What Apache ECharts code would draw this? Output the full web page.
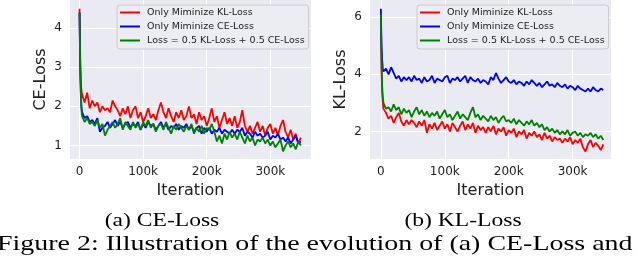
<!DOCTYPE html>
<html><head><meta charset="utf-8">
<script src="https://cdn.jsdelivr.net/npm/echarts@6/dist/echarts.min.js"></script>
<style>html,body{margin:0;padding:0;background:#fff}#c{width:640px;height:261px}</style>
</head><body><div id="c"></div>
<script>
// Iteration (in thousands)
const iterK = [0,1,2,3,
  4,8,12,16,20,24,28,32,36,40,
  44,48,52,56,60,64,68,72,76,80,
  84,88,92,96,100,104,108,112,116,120,
  124,128,132,136,140,144,148,152,156,160,
  164,168,172,176,180,184,188,192,196,200,
  204,208,212,216,220,224,228,232,236,240,
  244,248,252,256,260,264,268,272,276,280,
  284,288,292,296,300,304,308,312,316,320,
  324,328,332,336,340,344,348];

const seriesNames = ['Only Miminize KL-Loss','Only Miminize CE-Loss','Loss = 0.5 KL-Loss + 0.5 CE-Loss'];

// (a) CE-Loss
const ceKL = [4.5,3.3,2.6,2.4,
  2.3,2.1,2.35,1.95,2.15,2.0,2.1,1.85,2.0,1.9,
  1.95,1.85,2.15,2.0,1.9,1.75,1.95,1.8,2.0,1.7,
  1.9,2.0,1.7,1.85,1.6,1.75,1.95,1.7,1.8,1.65,
  1.9,2.1,1.85,1.7,1.95,1.75,1.6,1.85,1.7,1.9,
  1.65,1.75,2.0,1.7,1.8,1.55,1.85,1.65,1.75,1.5,
  1.7,1.95,1.6,1.75,1.45,1.65,1.85,1.55,1.7,1.5,
  1.75,1.45,1.6,1.9,1.5,1.35,1.5,1.3,1.45,1.6,
  1.35,1.5,1.25,1.45,1.55,1.3,1.45,1.25,1.5,1.65,
  1.35,1.2,1.4,1.15,1.3,1.05,1.2];
const ceCE = [4.4,3.0,2.3,2.0,
  1.85,1.7,1.75,1.6,1.65,1.55,1.7,1.35,1.45,1.5,
  1.6,1.45,1.55,1.65,1.5,1.6,1.45,1.55,1.6,1.45,
  1.55,1.5,1.6,1.4,1.55,1.45,1.6,1.5,1.55,1.4,
  1.5,1.6,1.45,1.55,1.4,1.5,1.45,1.55,1.4,1.5,
  1.45,1.55,1.4,1.5,1.35,1.45,1.5,1.3,1.45,1.35,
  1.45,1.3,1.4,1.35,1.45,1.3,1.4,1.35,1.3,1.4,
  1.3,1.4,1.35,1.45,1.25,1.35,1.3,1.2,1.35,1.25,
  1.3,1.2,1.25,1.35,1.15,1.25,1.2,1.3,1.15,1.2,
  1.1,1.2,1.05,1.15,1.25,1.05,1.1];
const ceMix = [4.4,3.1,2.4,1.9,
  1.75,1.6,1.7,1.55,1.6,1.5,1.65,1.45,1.55,1.25,
  1.4,1.5,1.6,1.45,1.55,1.7,1.4,1.6,1.5,1.4,
  1.6,1.45,1.55,1.4,1.6,1.5,1.65,1.45,1.55,1.35,
  1.5,1.55,1.4,1.6,1.45,1.3,1.5,1.4,1.55,1.45,
  1.35,1.5,1.4,1.55,1.3,1.45,1.35,1.5,1.3,1.45,
  1.4,1.55,1.35,1.1,1.25,1.05,1.3,1.15,1.35,1.2,
  1.3,1.15,1.35,1.2,1.05,1.25,1.1,1.2,1.0,1.15,
  1.1,1.2,1.05,1.15,1.0,1.1,0.95,1.05,1.15,0.85,
  1.0,1.1,0.95,1.05,0.9,1.1,1.0];

// (b) KL-Loss
const klKL = [6.0,4.2,3.4,3.0,
  2.8,2.65,2.45,2.55,2.3,2.5,2.65,2.35,2.2,2.4,
  2.25,2.4,2.3,2.15,2.35,2.2,2.4,1.95,2.25,2.1,
  2.3,2.05,2.2,2.35,2.1,2.25,2.0,2.3,2.15,2.0,
  2.2,2.35,2.05,2.25,2.1,2.3,1.95,2.2,2.05,2.15,
  1.95,2.15,2.0,2.2,1.9,2.1,2.0,2.15,1.85,2.05,
  1.95,2.1,1.8,2.0,1.9,2.05,1.75,1.95,1.85,2.0,
  1.8,1.9,1.7,1.95,1.75,1.85,1.65,1.8,1.7,1.75,
  1.6,1.75,1.65,1.8,1.55,1.7,1.6,1.75,1.45,1.3,
  1.55,1.7,1.45,1.6,1.5,1.35,1.55];
const klCE = [6.3,5.0,4.5,4.2,
  4.1,4.2,4.0,4.25,4.05,3.85,3.95,3.75,3.9,3.8,
  3.9,3.75,3.95,3.8,3.85,3.7,3.9,3.75,3.8,3.95,
  3.7,3.85,3.8,3.75,3.9,3.95,3.7,3.85,3.8,3.9,
  3.75,3.85,3.95,3.7,3.9,3.8,3.75,3.85,3.7,3.8,
  3.75,3.65,3.9,3.8,4.05,3.85,3.7,3.8,3.9,3.75,
  3.7,3.8,3.65,3.75,3.7,3.6,3.75,3.65,3.8,3.7,
  3.6,3.7,3.55,3.65,3.75,3.6,3.65,3.55,3.7,3.6,
  3.55,3.65,3.5,3.6,3.55,3.45,3.6,3.5,3.45,3.4,
  3.5,3.4,3.55,3.45,3.4,3.5,3.45];
const klMix = [6.1,4.5,3.6,3.2,
  3.0,2.8,2.85,2.7,2.95,2.75,2.85,2.6,2.8,2.65,
  2.75,2.5,2.7,2.85,2.6,2.75,2.55,2.7,2.5,2.65,
  2.55,2.7,2.45,2.6,2.75,2.5,2.6,2.4,2.55,2.7,
  2.45,2.6,2.5,2.4,2.65,2.85,2.5,2.6,2.4,2.55,
  2.45,2.35,2.55,2.4,2.5,2.3,2.45,2.55,2.35,2.4,
  2.3,2.45,2.25,2.4,2.3,2.2,2.35,2.25,2.4,2.2,
  2.3,2.15,2.25,2.05,2.15,2.0,2.1,1.95,2.05,1.9,
  2.0,1.9,2.05,1.85,1.95,2.0,1.85,1.95,1.8,1.9,
  1.85,1.95,1.8,1.9,1.75,1.85,1.7];

const xTicks = [0,100,200,300];
const ceTicks = [1,2,3,4];
const klTicks = [2,4,6];
const colors = ['#ff0000','#0000ff','#008000'];

const txt = '#222';
function xAxis(idx, min, max){
  return {type:'value', gridIndex:idx, min:min, max:max,
    name:'Iteration', nameLocation:'middle', nameGap:22,
    nameTextStyle:{fontFamily:'DejaVu Sans', fontSize:16, color:txt},
    axisLine:{show:false}, axisTick:{show:false, customValues:xTicks},
    axisLabel:{customValues:xTicks, fontFamily:'DejaVu Sans', fontSize:12, color:txt, margin:7,
      formatter:v=> v===0?'0':v+'k'},
    splitLine:{show:true, lineStyle:{color:'#ffffff', width:1}}};
}
function yAxis(idx, min, max, ticks, name){
  return {type:'value', gridIndex:idx, min:min, max:max,
    name:name, nameLocation:'middle', nameGap:21,
    nameTextStyle:{fontFamily:'DejaVu Sans', fontSize:16, color:txt},
    axisLine:{show:false}, axisTick:{show:false, customValues:ticks},
    axisLabel:{customValues:ticks, fontFamily:'DejaVu Sans', fontSize:12, color:txt, margin:8},
    splitLine:{show:true, lineStyle:{color:'#ffffff', width:1}}};
}
function legend(left){
  return {left:left, top:5, orient:'vertical', padding:[2,4,3,3], itemGap:3,
    itemWidth:20, itemHeight:2, icon:'rect',
    backgroundColor:'#ECECF3', borderColor:'#CCCCCC', borderWidth:1, borderRadius:3,
    textStyle:{fontFamily:'DejaVu Sans', fontSize:9.5, color:txt, lineHeight:11, padding:[0,0,0,2]},
    data:seriesNames};
}
function mk(arr, name, color, gi){
  return {type:'line', name:name, xAxisIndex:gi, yAxisIndex:gi, showSymbol:false,
    lineStyle:{width:1.8, color:color}, itemStyle:{color:color},
    data: iterK.map((x,i)=>[x, arr[i]])};
}

const chart = echarts.init(document.getElementById('c'));
chart.setOption({
  animation:false,
  grid:[
    {left:70, top:0, width:241, height:159, show:true, backgroundColor:'#EAEAF2', borderWidth:0},
    {left:370, top:0, width:241, height:159, show:true, backgroundColor:'#EAEAF2', borderWidth:0}
  ],
  xAxis:[xAxis(0,-15,364), xAxis(1,-17,360)],
  yAxis:[yAxis(0,0.652,4.724,ceTicks,'CE-Loss'), yAxis(1,1.035,6.605,klTicks,'KL-Loss')],
  legend:[legend(117), legend(417)],
  series:[
    mk(ceKL, seriesNames[0], colors[0], 0),
    mk(ceCE, seriesNames[1], colors[1], 0),
    mk(ceMix, seriesNames[2], colors[2], 0),
    mk(klKL, seriesNames[0], colors[0], 1),
    mk(klCE, seriesNames[1], colors[1], 1),
    mk(klMix, seriesNames[2], colors[2], 1)
  ],
  graphic:[
    {type:'text', x:162, y:221, scaleX:1.31, style:{text:'(a) CE-Loss', fontFamily:'Liberation Serif', fontSize:18, fill:'#000', align:'center', verticalAlign:'middle'}},
    {type:'text', x:463, y:221, scaleX:1.31, style:{text:'(b) KL-Loss', fontFamily:'Liberation Serif', fontSize:18, fill:'#000', align:'center', verticalAlign:'middle'}},
    {type:'text', x:-3, y:244, scaleX:1.27, style:{text:'Figure 2: Illustration of the evolution of (a) CE-Loss and', fontFamily:'Liberation Serif', fontSize:22, fill:'#000', align:'left', verticalAlign:'middle'}}
  ]
});
</script>
</body></html>
